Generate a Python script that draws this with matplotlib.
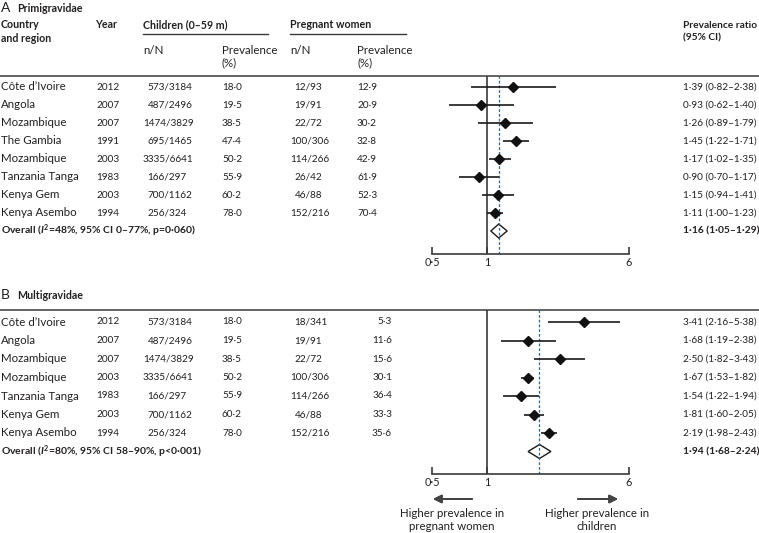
import matplotlib.pyplot as plt
from matplotlib.transforms import blended_transform_factory
from matplotlib.lines import Line2D

plt.rcParams['font.family'] = ['Lato', 'DejaVu Sans']
plt.rcParams['mathtext.fontset'] = 'custom'
plt.rcParams['mathtext.rm'] = 'Lato:bold'
plt.rcParams['mathtext.it'] = 'Lato:italic:bold'

W, H = 759, 533
TXT = '#231f20'
LINE = '#3a3a3a'
DASH = '#2f6690'
FS_WORD = 8.3   # words
FS_HEAD = 7.7   # bold headers
FS_NUM = 7.2    # numbers
DIGIT = 4.6     # approx. width of one digit in px, for padding the n/N columns

# Panel A: primigravidae
countries_a = ["Côte d’Ivoire", "Angola", "Mozambique", "The Gambia", "Mozambique",
               "Tanzania Tanga", "Kenya Gem", "Kenya Asembo"]
years_a = [2012, 2007, 2007, 1991, 2003, 1983, 2003, 1994]
child_n_a = [573, 487, 1474, 695, 3335, 166, 700, 256]
child_N_a = [3184, 2496, 3829, 1465, 6641, 297, 1162, 324]
child_prev_a = [18.0, 19.5, 38.5, 47.4, 50.2, 55.9, 60.2, 78.0]
preg_n_a = [12, 19, 22, 100, 114, 26, 46, 152]
preg_N_a = [93, 91, 72, 306, 266, 42, 88, 216]
preg_prev_a = [12.9, 20.9, 30.2, 32.8, 42.9, 61.9, 52.3, 70.4]
pr_a = [1.39, 0.93, 1.26, 1.45, 1.17, 0.90, 1.15, 1.11]
lo_a = [0.82, 0.62, 0.89, 1.22, 1.02, 0.70, 0.94, 1.00]
hi_a = [2.38, 1.40, 1.79, 1.71, 1.35, 1.17, 1.41, 1.23]
overall_a = [1.16, 1.05, 1.29]
overall_label_a = r"Overall ($I^2$=48%, 95% CI 0–77%, p=0·060)"

# Panel B: multigravidae
countries_b = ["Côte d’Ivoire", "Angola", "Mozambique", "Mozambique",
               "Tanzania Tanga", "Kenya Gem", "Kenya Asembo"]
years_b = [2012, 2007, 2007, 2003, 1983, 2003, 1994]
child_n_b = [573, 487, 1474, 3335, 166, 700, 256]
child_N_b = [3184, 2496, 3829, 6641, 297, 1162, 324]
child_prev_b = [18.0, 19.5, 38.5, 50.2, 55.9, 60.2, 78.0]
preg_n_b = [18, 19, 22, 100, 114, 46, 152]
preg_N_b = [341, 91, 72, 306, 266, 88, 216]
preg_prev_b = [5.3, 11.6, 15.6, 30.1, 36.4, 33.3, 35.6]
pr_b = [3.41, 1.68, 2.50, 1.67, 1.54, 1.81, 2.19]
lo_b = [2.16, 1.19, 1.82, 1.53, 1.22, 1.60, 1.98]
hi_b = [5.38, 2.38, 3.43, 1.82, 1.94, 2.05, 2.43]
overall_b = [1.94, 1.68, 2.24]
overall_label_b = r"Overall ($I^2$=80%, 95% CI 58–90%, p<0·001)"

tick_vals = [0.5, 1, 6]
tick_labels = ["0·5", "1", "6"]


def dot(v, nd=1):
    return f"{v:.{nd}f}".replace('.', '·')


def ci_text(e, l, h):
    return f"{dot(e, 2)} ({dot(l, 2)}–{dot(h, 2)})"


fig = plt.figure(figsize=(W / 100, H / 100), dpi=100)


def fx(x):
    return x / W


def fy(y):
    return 1 - y / H


def panel(top, bottom, row0, step, countries, years, cn, cN, cp, pn, pN, pp,
          pr, lo, hi, overall, overall_label, preg_x, preg_ha):
    ax = fig.add_axes([fx(432), fy(bottom), fx(629) - fx(432), (bottom - top) / H])
    n = len(countries)
    rows = list(range(n))
    ax.set_xscale('log')
    ax.set_xlim(0.5, 6)
    ax.set_ylim((bottom - row0) / step, (top - row0) / step)
    for s in ['top', 'left', 'right']:
        ax.spines[s].set_visible(False)
    ax.spines['bottom'].set_linewidth(1.2)
    ax.spines['bottom'].set_color(LINE)
    ax.set_xticks(tick_vals)
    ax.set_xticklabels(tick_labels)
    ax.minorticks_off()
    ax.tick_params(axis='x', direction='in', length=5, width=1.2, color=LINE,
                   labelsize=7.8, labelcolor=TXT, pad=2)
    ax.set_yticks([])
    ax.patch.set_visible(False)

    ax.axvline(1, color=LINE, lw=1.2)
    ax.axvline(overall[0], color=DASH, lw=0.9, ls=(0, (2.2, 1.6)))
    ax.hlines(rows, lo, hi, color='#1a1a1a', lw=1.2)
    ax.plot(pr, rows, 'D', color='#111111', ms=5.6, ls='none')
    h = 7 / step
    ax.fill([overall[1], overall[0], overall[2], overall[0]],
            [n, n - h, n, n + h], facecolor='none', edgecolor='#1a1a1a', lw=1.0)

    # separator across the full width at the top of the panel
    sep_tr = blended_transform_factory(fig.transFigure, ax.transAxes)
    fig.add_artist(Line2D([0, 1], [1, 1], transform=sep_tr, color=LINE, lw=1.1))

    tr = blended_transform_factory(fig.transFigure, ax.transData)
    kw = dict(transform=tr, color=TXT, va='center')
    for i in range(n):
        fig.text(fx(1), i, countries[i], fontsize=FS_WORD, **kw)
        fig.text(fx(96), i, str(years[i]), fontsize=FS_NUM, **kw)
        pad_c = (4 - len(str(cn[i]))) * DIGIT
        fig.text(fx(143 + pad_c), i, f"{cn[i]}/{cN[i]}", fontsize=FS_NUM, **kw)
        fig.text(fx(222), i, dot(cp[i]), fontsize=FS_NUM, **kw)
        pad_p = (3 - len(str(pn[i]))) * DIGIT
        fig.text(fx(290 + pad_p), i, f"{pn[i]}/{pN[i]}", fontsize=FS_NUM, **kw)
        fig.text(fx(preg_x), i, dot(pp[i]), ha=preg_ha, fontsize=FS_NUM, **kw)
        fig.text(fx(683), i, ci_text(pr[i], lo[i], hi[i]), fontsize=FS_NUM, **kw)
    fig.text(fx(1), n, overall_label, fontweight='bold', fontsize=7.5, **kw)
    fig.text(fx(683), n, ci_text(*overall), fontweight='bold', fontsize=7.4, **kw)
    return ax


def t(x, y, s, **k):
    d = dict(fontsize=FS_WORD, color=TXT, va='center', ha='left')
    d.update(k)
    fig.text(fx(x), fy(y), s, **d)


def hb(x, y, s, **k):
    t(x, y, s, fontweight='bold', fontsize=FS_HEAD, **k)


# Panel A headers
t(1, 8, "A", fontsize=10)
hb(17, 8.5, "Primigravidae")
hb(1, 25, "Country")
hb(1, 38, "and region")
hb(95, 25, "Year")
hb(143, 25, "Children (0–59 m)")
hb(290, 25, "Pregnant women")
t(683, 25, "Prevalence ratio", fontweight='bold', fontsize=7.3)
t(683, 38, "(95% CI)", fontweight='bold', fontsize=7.3)
t(143, 50, "n/N")
t(222, 50, "Prevalence")
t(222, 63, "(%)")
t(290, 50, "n/N")
t(357, 50, "Prevalence")
t(357, 63, "(%)")
fig.add_artist(Line2D([fx(143), fx(268)], [fy(34), fy(34)], color=LINE, lw=1.0))
fig.add_artist(Line2D([fx(290), fx(406)], [fy(34), fy(34)], color=LINE, lw=1.0))

panel(76, 254, 87, 18, countries_a, years_a, child_n_a, child_N_a, child_prev_a,
      preg_n_a, preg_N_a, preg_prev_a, pr_a, lo_a, hi_a, overall_a,
      overall_label_a, 357, 'left')

# Panel B
t(1, 295, "B", fontsize=10)
hb(17, 295.5, "Multigravidae")

panel(310, 474, 322, 18.5, countries_b, years_b, child_n_b, child_N_b, child_prev_b,
      preg_n_b, preg_N_b, preg_prev_b, pr_b, lo_b, hi_b, overall_b,
      overall_label_b, 392, 'right')

arrow = dict(arrowstyle='-|>', color='#444444', lw=1.4, mutation_scale=12,
             shrinkA=0, shrinkB=0)
fig.add_artist(plt.annotate('', xy=(fx(433), fy(499)), xytext=(fx(472), fy(499)),
                            xycoords='figure fraction', arrowprops=arrow))
fig.add_artist(plt.annotate('', xy=(fx(618), fy(499)), xytext=(fx(578), fy(499)),
                            xycoords='figure fraction', arrowprops=arrow))
t(452, 520, "Higher prevalence in\npregnant women", ha='center', multialignment='center',
  linespacing=1.25)
t(597, 520, "Higher prevalence in\nchildren", ha='center', multialignment='center',
  linespacing=1.25)

fig.savefig("out.png", dpi=100)
